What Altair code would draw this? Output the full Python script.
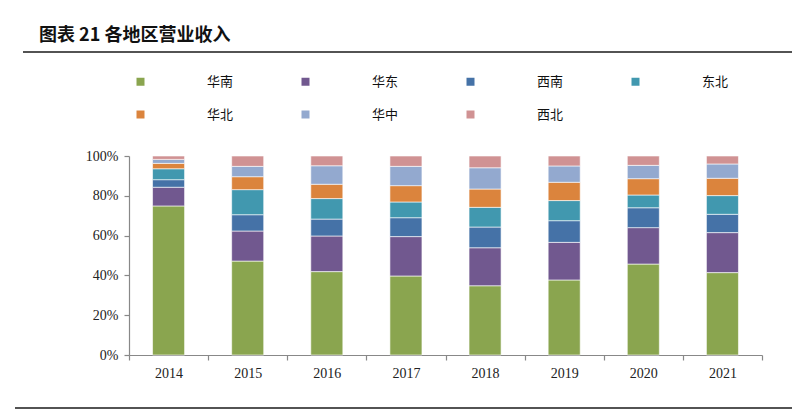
import altair as alt
import pandas as pd

years = ["2014", "2015", "2016", "2017", "2018", "2019", "2020", "2021"]
regions = ["华南", "华东", "西南", "东北", "华北", "华中", "西北"]
colors = ["#8AA54F", "#71588F", "#4572A7", "#4198AF", "#DB843D", "#93A9CF", "#D09293"]

huanan = [74.9, 47.2, 41.9, 39.7, 34.8, 37.7, 45.7, 41.4]
huadong = [9.4, 15.1, 17.9, 19.8, 19.1, 18.9, 18.3, 20.1]
xinan = [3.8, 8.2, 8.5, 9.5, 10.4, 10.9, 10.0, 9.2]
dongbei = [5.5, 12.6, 10.3, 7.9, 9.9, 10.1, 6.4, 9.4]
huabei = [2.7, 6.5, 7.2, 8.2, 9.2, 9.2, 8.2, 8.7]
huazhong = [2.0, 5.2, 9.3, 9.7, 10.7, 8.2, 6.7, 7.2]
xibei = [1.7, 5.2, 4.9, 5.2, 5.9, 5.0, 4.7, 4.0]

title_text = "图表 21 各地区营业收入"
y_ticks = [0, 0.2, 0.4, 0.6, 0.8, 1.0]

series = [huanan, huadong, xinan, dongbei, huabei, huazhong, xibei]
rows = []
for i, (name, vals) in enumerate(zip(regions, series)):
    for y, v in zip(years, vals):
        rows.append({"year": y, "region": name, "value": v, "idx": i})
df = pd.DataFrame(rows)

bars = alt.Chart(df).mark_bar(
    width=alt.RelativeBandSize(0.405), stroke="white", strokeWidth=0.6
).encode(
    x=alt.X("year:N", sort=years,
            scale=alt.Scale(paddingInner=0, paddingOuter=0),
            axis=alt.Axis(title=None, labelAngle=0, tickBand="extent",
                          tickSize=5, labelPadding=6)),
    y=alt.Y("value:Q", stack="normalize",
            scale=alt.Scale(domain=[0, 1], nice=False),
            axis=alt.Axis(title=None, format=".0%", values=y_ticks,
                          grid=False, tickSize=5, labelPadding=6)),
    color=alt.Color("region:N", scale=alt.Scale(domain=regions, range=colors),
                    legend=alt.Legend(title=None, orient="none", legendX=5, legendY=-81,
                                      direction="horizontal", columns=4,
                                      symbolType="square", symbolSize=64,
                                      symbolStrokeWidth=0, labelFont="Noto Sans CJK SC",
                                      labelFontSize=13, labelColor="#111",
                                      labelOffset=60, columnPadding=65, rowPadding=19,
                                      padding=0)),
    order=alt.Order("idx:Q", sort="ascending"),
)

one = pd.DataFrame({"a": [0]})
top_line = alt.Chart(one).mark_rule(color="#1a1a1a", strokeWidth=1.6).encode(
    x=alt.value(-106), x2=alt.value(663), y=alt.value(-104)
)
bottom_line = alt.Chart(one).mark_rule(color="#1a1a1a", strokeWidth=1.6).encode(
    x=alt.value(-114), x2=alt.value(663), y=alt.value(252)
)
title = alt.Chart(one).mark_text(
    text=title_text, font="Noto Sans CJK SC", fontSize=18, fontWeight="bold",
    align="left", baseline="middle", color="#111"
).encode(x=alt.value(-90), y=alt.value(-120))

chart = alt.layer(bars, top_line, bottom_line, title).properties(
    width=633, height=199,
    padding={"left": 121, "top": 148, "right": 30, "bottom": 54},
    autosize="none",
).configure_view(stroke=None).configure_axis(
    domainColor="#888888", tickColor="#888888", labelFont="Liberation Serif",
    labelFontSize=14, labelColor="#222222", domainWidth=1.2, tickWidth=1.2
)

chart.save("out.html", embed_options={"renderer": "svg", "actions": False})
